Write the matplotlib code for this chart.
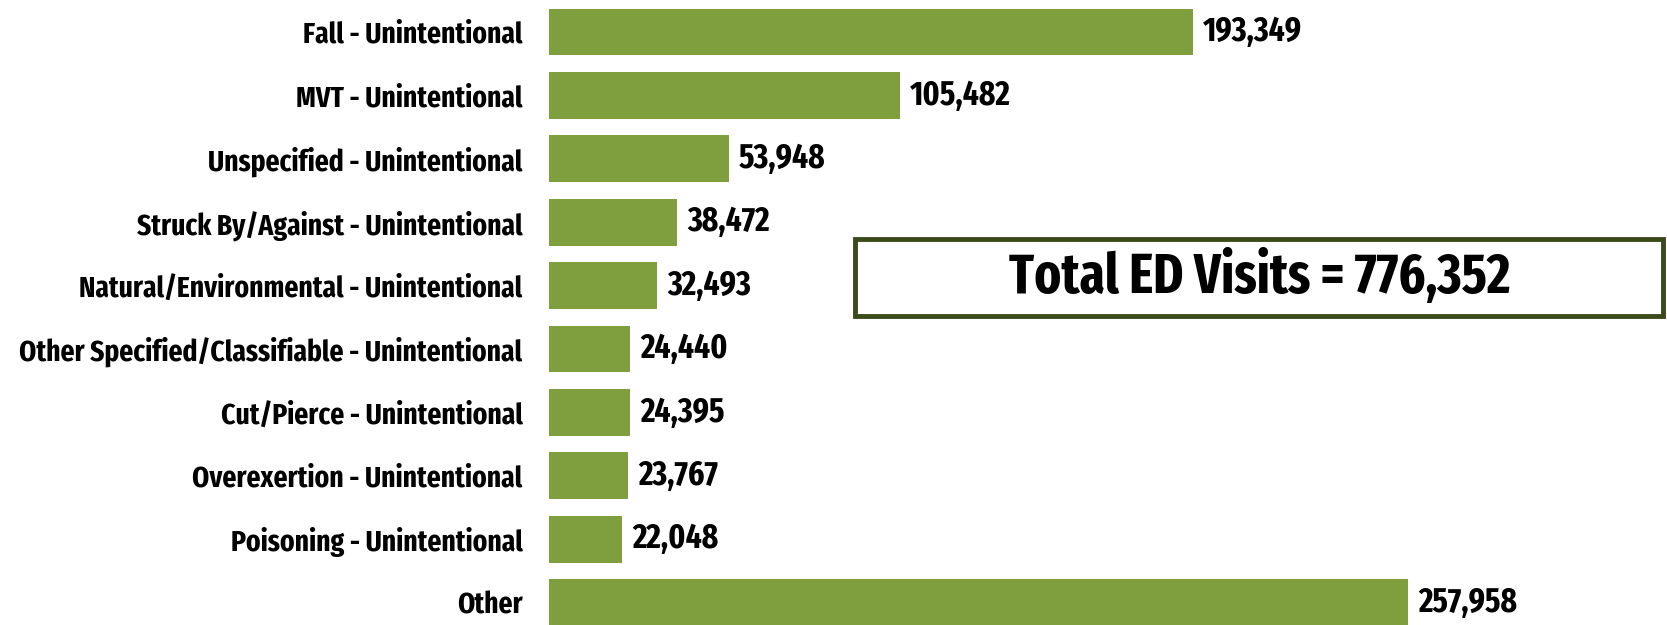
import matplotlib
matplotlib.use("Agg")
from matplotlib import pyplot as plt

categories = [
    "Fall - Unintentional",
    "MVT - Unintentional",
    "Unspecified - Unintentional",
    "Struck By/Against - Unintentional",
    "Natural/Environmental - Unintentional",
    "Other Specified/Classifiable - Unintentional",
    "Cut/Pierce - Unintentional",
    "Overexertion - Unintentional",
    "Poisoning - Unintentional",
    "Other",
]
visits = [193349, 105482, 53948, 38472, 32493, 24440, 24395, 23767, 22048, 257958]
total_label = "Total ED Visits = 776,352"

bar_color = "#7f9f3f"
font = ["Fira Sans Extra Condensed", "DejaVu Sans"]

fig = plt.figure(figsize=(16.67, 6.25), dpi=100)
ax = fig.add_axes([549 / 1667, 0, 1 - 549 / 1667, 1])

pos = list(range(len(categories)))
ax.barh(pos, visits, height=0.74, color=bar_color)
ax.set_xlim(0, 335700)
ax.set_ylim(9.353, -0.505)

for y, v in zip(pos, visits):
    ax.text(v + 3000, y, f"{v:,}", va="center", ha="left",
            fontsize=24.5, fontweight="bold", family=font)

ax.set_yticks(pos)
ax.set_yticklabels(categories, fontsize=21.5, fontweight="bold", family=font)
ax.tick_params(axis="y", length=0, pad=19)
ax.set_xticks([])
for s in ax.spines.values():
    s.set_visible(False)

fig.text(1260 / 1667, 1 - 278 / 625, total_label, ha="center", va="center",
         fontsize=40, fontweight="bold", family=font)
box = plt.Rectangle((855 / 1667, 1 - 316 / 625), (1663 - 855) / 1667, (316 - 239) / 625,
                    transform=fig.transFigure, fill=False, edgecolor="#3b4a1a", linewidth=3.5)
fig.patches.append(box)

fig.savefig("out.png", dpi=100)
